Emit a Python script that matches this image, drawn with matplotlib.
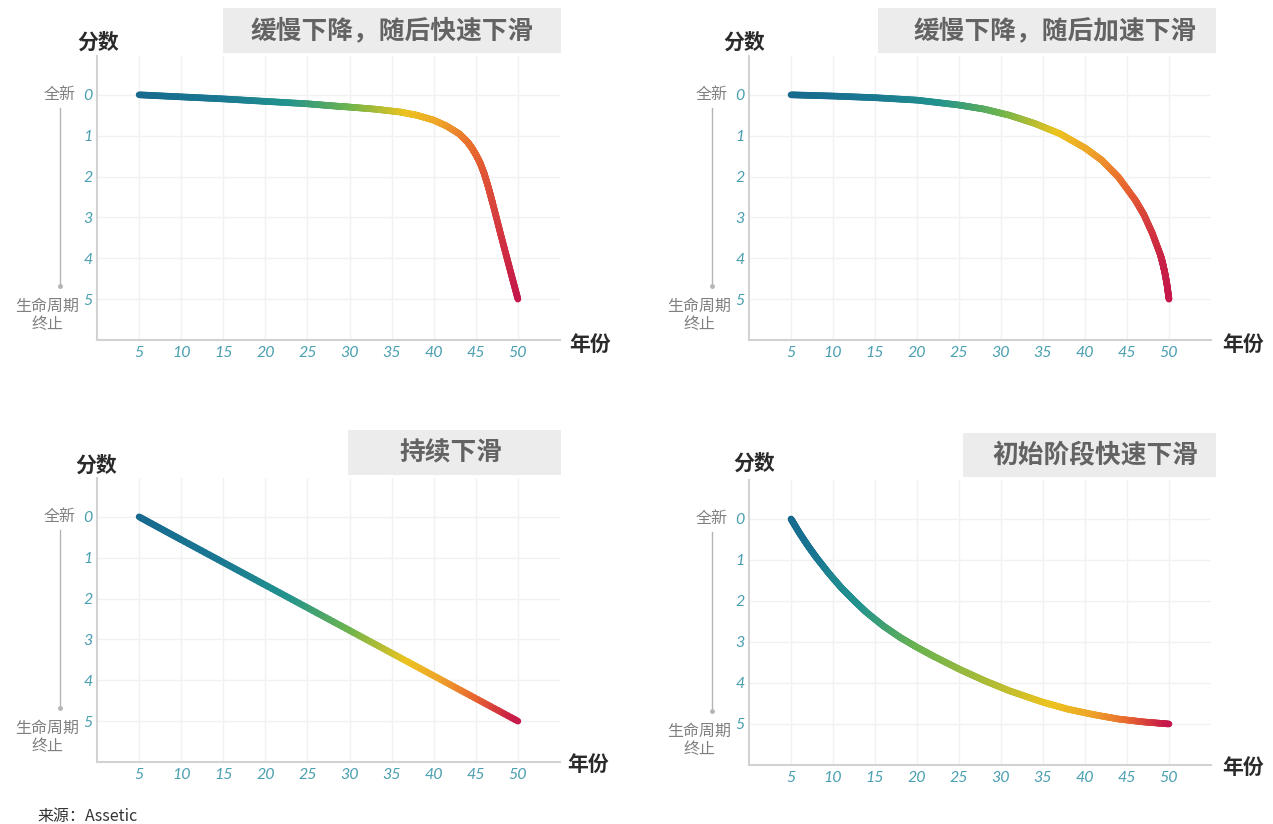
import numpy as np
import matplotlib
matplotlib.use("Agg")
import matplotlib.pyplot as plt
from matplotlib.collections import LineCollection
from matplotlib.colors import LinearSegmentedColormap, Normalize
from matplotlib.patches import Rectangle
from matplotlib.lines import Line2D
from matplotlib import transforms as mtrans

plt.rcParams['font.family'] = ['Noto Sans CJK SC', 'DejaVu Sans']

# ---------------- data ----------------
titles = ["缓慢下降，随后快速下滑", "缓慢下降，随后加速下滑", "持续下滑", "初始阶段快速下滑"]

years_1 = [5, 10, 15, 20, 25, 28, 30, 33, 36, 38, 40, 41.5, 43, 44, 44.5, 45, 45.5, 46, 46.5, 47, 48, 49, 50]
score_1 = [0, 0.05, 0.10, 0.16, 0.22, 0.27, 0.30, 0.35, 0.42, 0.50, 0.62, 0.76, 0.95, 1.15, 1.29, 1.46, 1.66, 1.93, 2.27, 2.65, 3.45, 4.23, 5.0]

years_2 = [5, 10, 15, 20, 25, 28, 31, 34, 37, 40, 42, 44, 46, 47, 48, 49, 49.25, 49.5, 49.75, 50]
score_2 = [0, 0.03, 0.07, 0.13, 0.25, 0.35, 0.50, 0.70, 0.95, 1.30, 1.60, 2.02, 2.58, 2.93, 3.38, 3.93, 4.12, 4.35, 4.63, 5.0]

years_3 = [5, 10, 20, 30, 40, 50]
score_3 = [0, 0.56, 1.67, 2.78, 3.89, 5.0]

years_4 = [5, 6, 7, 8, 9.5, 11, 12.6, 14, 16, 18, 20, 22, 25, 28, 31, 35, 38, 41, 44, 47, 50]
score_4 = [0, 0.34, 0.65, 0.935, 1.325, 1.68, 2.01, 2.28, 2.61, 2.89, 3.13, 3.35, 3.66, 3.94, 4.19, 4.47, 4.64, 4.77, 4.88, 4.95, 5.0]

series = [(years_1, score_1), (years_2, score_2), (years_3, score_3), (years_4, score_4)]

# colour position along each curve: (fraction of year span) -> (colormap position)
color_warp = [
    ([0, 1], [0, 1]),
    ([0, 1], [0, 1]),
    ([0, 1], [0, 1]),
    ([0, 0.11, 0.33, 0.56, 0.71, 0.87, 1], [0, 0.32, 0.55, 0.65, 0.72, 0.86, 1]),
]

x_ticks = [5, 10, 15, 20, 25, 30, 35, 40, 45, 50]
y_ticks = [0, 1, 2, 3, 4, 5]
label_new = "全新"
label_end = "生命周期\n终止"
x_label = "年份"
y_label = "分数"
source_text = "来源：Assetic"

# ---------------- layout ----------------
W, H = 1273, 824
fig = plt.figure(figsize=(W / 100, H / 100), dpi=100)
fig.patch.set_facecolor("white")

axes_px = [(97, 56, 560, 340), (749, 56, 1211, 340), (97, 478, 560, 762), (749, 480, 1211, 765)]
title_box_px = [(223, 8, 561, 53), (878, 8, 1216, 53), (348, 430, 561, 475), (963, 433, 1216, 477)]
title_txt_px = [(392, 31), (1055, 31), (451, 453), (1095, 456)]
ylab_px = [(98, 42), (744, 42), (96, 465), (754, 463)]
xlab_px = [(590, 344), (1243, 344), (588, 764), (1243, 767)]

cmap = LinearSegmentedColormap.from_list(
    "life",
    [(0.0, "#176a8e"), (0.22, "#1a7892"), (0.40, "#22938d"), (0.56, "#6db44e"),
     (0.71, "#ecc31e"), (0.80, "#eea42a"), (0.89, "#e8672f"), (1.0, "#c5174a")])

tick_color = "#4a9fb0"


def fig_rect(l, t, r, b):
    return [l / W, 1 - b / H, (r - l) / W, (b - t) / H]


for i in range(4):
    l, t, r, b = axes_px[i]
    ax = fig.add_axes(fig_rect(l, t, r, b))
    ax.set_xlim(0, 55)
    ax.set_ylim(6, -0.95)
    ax.set_xticks(x_ticks)
    ax.set_yticks(y_ticks)
    ax.tick_params(axis="both", length=0, labelsize=11.5, labelcolor=tick_color)
    ax.tick_params(axis="x", pad=4)
    ax.tick_params(axis="y", pad=3)
    for lab in ax.get_xticklabels() + ax.get_yticklabels():
        lab.set_fontstyle("italic")
        lab.set_fontfamily(["Lato", "DejaVu Sans"])
    ax.grid(True, color="#f1f1f1", lw=1)
    ax.set_axisbelow(True)
    for s in ["top", "right"]:
        ax.spines[s].set_visible(False)
    for s in ["left", "bottom"]:
        ax.spines[s].set_color("#d2d2d2")
        ax.spines[s].set_linewidth(1.5)

    # gradient line
    xs = np.asarray(series[i][0], float)
    ys = np.asarray(series[i][1], float)
    m = 25
    px_list, py_list = [], []
    for k in range(len(xs) - 1):
        f = np.linspace(0, 1, m, endpoint=False)
        px_list.append(xs[k] + (xs[k + 1] - xs[k]) * f)
        py_list.append(ys[k] + (ys[k + 1] - ys[k]) * f)
    px_list.append([xs[-1]])
    py_list.append([ys[-1]])
    X = np.concatenate(px_list)
    Y = np.concatenate(py_list)
    pts = np.column_stack([X, Y])
    segs = np.stack([pts[:-1], pts[1:]], axis=1)
    xfrac = (X - X[0]) / (X[-1] - X[0])
    tpar = np.interp(xfrac, *color_warp[i])
    tmid = 0.5 * (tpar[:-1] + tpar[1:])
    lc = LineCollection(segs, cmap=cmap, norm=Normalize(0, 1), linewidths=4.8,
                        capstyle="round", joinstyle="round", zorder=3)
    lc.set_array(tmid)
    ax.add_collection(lc)

    # side labels
    base = mtrans.blended_transform_factory(ax.transAxes, ax.transData)
    tr_new = mtrans.offset_copy(base, fig=fig, x=-37, y=0, units="dots")
    ax.text(0, 0, label_new, transform=tr_new, ha="center", va="center",
            fontsize=11.5, color="#808080", clip_on=False)
    tr_end = mtrans.offset_copy(base, fig=fig, x=-50, y=0, units="dots")
    ax.text(0, 5.4, label_end, transform=tr_end, ha="center", va="center",
            fontsize=11.5, color="#808080", linespacing=1.15, multialignment="center",
            clip_on=False)
    tr_line = mtrans.offset_copy(base, fig=fig, x=-37, y=0, units="dots")
    ax.add_line(Line2D([0, 0], [0.32, 4.68], transform=tr_line, color="#b5b5b5",
                       lw=1.0, clip_on=False))
    ax.add_line(Line2D([0], [4.68], transform=tr_line, color="#b5b5b5", marker="o",
                       markersize=2.5, clip_on=False))

    # title box
    bl, bt, br, bb = title_box_px[i]
    fig.add_artist(Rectangle((bl / W, 1 - bb / H), (br - bl) / W, (bb - bt) / H,
                             transform=fig.transFigure, facecolor="#ececec",
                             edgecolor="none", zorder=0))
    tx, ty = title_txt_px[i]
    fig.text(tx / W, 1 - ty / H, titles[i], ha="center", va="center",
             fontsize=18.5, fontweight="bold", color="#636363")

    # axis labels
    yx, yy = ylab_px[i]
    fig.text(yx / W, 1 - yy / H, y_label, ha="center", va="center",
             fontsize=15, fontweight="bold", color="#2a2a2a")
    xx, xy = xlab_px[i]
    fig.text(xx / W, 1 - xy / H, x_label, ha="center", va="center",
             fontsize=15, fontweight="bold", color="#2a2a2a")

fig.text(37 / W, 1 - 817 / H, source_text, ha="left", va="center",
         fontsize=11.5, color="#333333")

fig.savefig("out.png", dpi=100, facecolor="white")
